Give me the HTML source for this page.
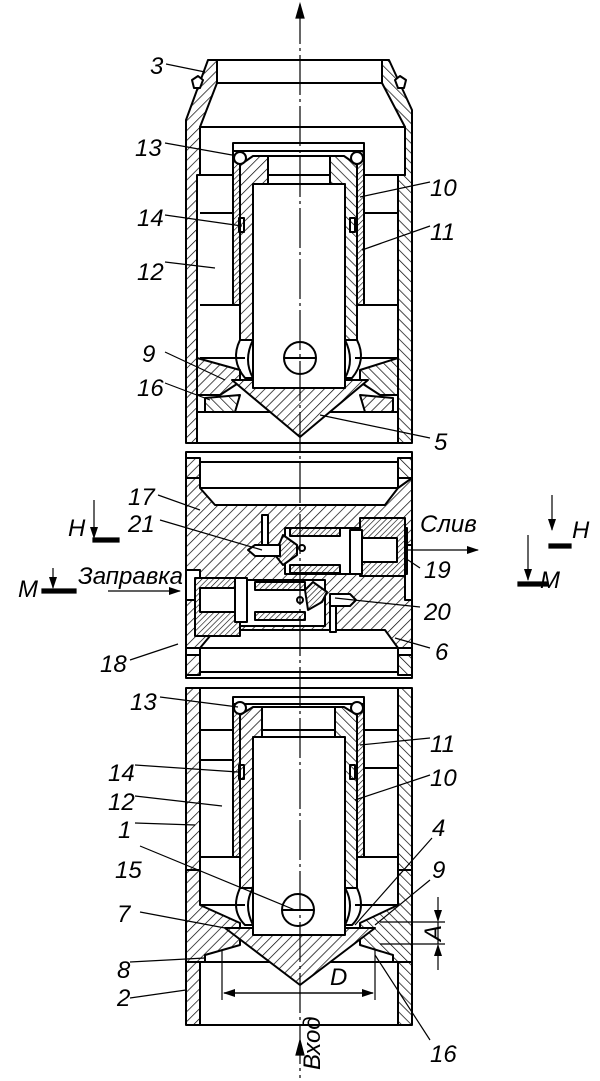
<!DOCTYPE html>
<html><head><meta charset="utf-8"><style>
html,body{margin:0;padding:0;background:#fff}
svg{display:block}
text{font-family:"Liberation Sans","DejaVu Sans",sans-serif;font-style:italic;font-size:24px;fill:#000}
</style></head><body>
<svg width="600" height="1081" viewBox="0 0 600 1081" xmlns="http://www.w3.org/2000/svg">
<defs>
<pattern id="h" patternUnits="userSpaceOnUse" width="7" height="7" patternTransform="rotate(45)"><rect width="7" height="7" fill="#fff"/><line x1="0" y1="0" x2="0" y2="7" stroke="#000" stroke-width="1.4"/></pattern>
<pattern id="h2" patternUnits="userSpaceOnUse" width="7" height="7" patternTransform="rotate(-45)"><rect width="7" height="7" fill="#fff"/><line x1="0" y1="0" x2="0" y2="7" stroke="#000" stroke-width="1.4"/></pattern>
<pattern id="h3" patternUnits="userSpaceOnUse" width="4" height="4" patternTransform="rotate(45)"><rect width="4" height="4" fill="#fff"/><line x1="0" y1="0" x2="0" y2="4" stroke="#000" stroke-width="1.2"/></pattern>
<marker id="ar" markerWidth="12" markerHeight="8" refX="11" refY="4" orient="auto" markerUnits="userSpaceOnUse"><path d="M0,0 L12,4 L0,8 z" fill="#000"/></marker>
</defs>
<g stroke="#000" stroke-width="2" fill="none" stroke-linejoin="round">

<!-- ===== TOP SECTION ===== -->
<polygon points="208,60 217,60 217,83 200,127 200,175 197,175 197,443 186,443 186,120" fill="url(#h)"/>
<polygon points="389,60 382,60 382,83 405,127 405,175 398,175 398,443 412,443 412,110" fill="url(#h2)"/>
<path d="M192,80 l6,-4 l5,4 l-3,8 l-6,0 z M406,80 l-6,-4 l-5,4 l3,8 l6,0 z" fill="#fff"/>
<line x1="217" y1="60" x2="382" y2="60"/>
<line x1="217" y1="83" x2="382" y2="83"/>
<rect x="200" y="127" width="205" height="48"/>
<line x1="200" y1="213" x2="233" y2="213"/><line x1="364" y1="213" x2="398" y2="213"/>
<line x1="200" y1="305" x2="245" y2="305"/><line x1="355" y1="305" x2="398" y2="305"/>
<line x1="200" y1="358" x2="245" y2="358"/><line x1="355" y1="358" x2="398" y2="358"/>
<polygon points="197,358 240,370 240,382 220,395 197,395" fill="url(#h)"/>
<polygon points="398,358 360,370 360,382 380,395 398,395" fill="url(#h2)"/>
<polygon points="205,398 240,395 235,412 205,412" fill="url(#h2)"/>
<polygon points="393,398 360,395 365,412 393,412" fill="url(#h)"/>
<line x1="197" y1="412" x2="398" y2="412"/>
<rect x="233" y="143" width="131" height="8" fill="#fff"/>
<rect x="233" y="151" width="7" height="154" fill="url(#h3)"/>
<rect x="357" y="151" width="7" height="154" fill="url(#h3)"/>
<polygon points="240,165 253,156 268,156 268,184 253,184 253,340 240,340" fill="url(#h)"/>
<polygon points="357,165 344,156 330,156 330,184 345,184 345,340 357,340" fill="url(#h2)"/>
<line x1="268" y1="156" x2="330" y2="156"/>
<line x1="253" y1="184" x2="345" y2="184"/>
<path d="M240,340 Q230,360 245,378 L253,378 Q243,360 253,340"/>
<path d="M357,340 Q367,360 352,378 L345,378 Q355,360 345,340"/>
<line x1="253" y1="184" x2="253" y2="388"/><line x1="345" y1="184" x2="345" y2="388"/>
<polygon points="232,380 253,380 253,388 345,388 345,380 368,380 300,437" fill="url(#h)"/>
<circle cx="300" cy="358" r="16" fill="#fff"/><line x1="284" y1="358" x2="316" y2="358"/>
<circle cx="240" cy="158" r="6" fill="#fff"/><circle cx="357" cy="158" r="6" fill="#fff"/>
<rect x="239" y="218" width="5" height="14"/><rect x="350" y="218" width="5" height="14"/>
<line x1="186" y1="443" x2="412" y2="443"/>

<!-- ===== MIDDLE SECTION ===== -->
<rect x="186" y="452" width="226" height="226"/>
<rect x="186" y="458" width="14" height="20" fill="url(#h)"/><rect x="398" y="458" width="14" height="20" fill="url(#h2)"/>
<rect x="186" y="655" width="14" height="20" fill="url(#h)"/><rect x="398" y="655" width="14" height="20" fill="url(#h2)"/>
<rect x="200" y="462" width="198" height="26"/>
<rect x="200" y="648" width="198" height="24"/>
<path d="M186,478 L200,478 L200,488 L215,505 L385,505 L398,488 L412,478 L412,545 L405,545 L405,600 L412,600 L412,648 L398,648 L385,630 L215,630 L200,648 L186,648 L186,600 L200,600 L200,570 L186,570 Z" fill="url(#h)"/>
<rect x="285" y="528" width="122" height="46" fill="#fff"/>
<rect x="360" y="518" width="45" height="58" fill="url(#h3)"/>
<rect x="290" y="528" width="50" height="8" fill="url(#h3)"/><rect x="290" y="565" width="50" height="8" fill="url(#h3)"/>
<rect x="350" y="530" width="12" height="44" fill="#fff"/>
<rect x="362" y="538" width="35" height="24" fill="#fff"/>
<path d="M283,535 L297,545 L297,555 L283,565 L275,555 Z" fill="url(#h3)"/>
<path d="M255,545 L280,545 L280,556 L255,556 L248,550 Z" fill="#fff"/>
<rect x="262" y="515" width="6" height="30" fill="#fff"/>
<rect x="195" y="580" width="130" height="46" fill="#fff"/>
<rect x="195" y="578" width="45" height="58" fill="url(#h3)"/>
<rect x="255" y="582" width="50" height="8" fill="url(#h3)"/><rect x="255" y="612" width="50" height="8" fill="url(#h3)"/>
<rect x="235" y="578" width="12" height="44" fill="#fff"/>
<rect x="200" y="588" width="35" height="24" fill="#fff"/>
<path d="M313,582 L327,592 L322,602 L308,610 L305,590 Z" fill="url(#h3)"/>
<path d="M330,594 L350,594 L356,600 L350,606 L330,606 Z" fill="#fff"/>
<rect x="330" y="606" width="6" height="26" fill="#fff"/>
<circle cx="302" cy="548" r="3"/><circle cx="300" cy="600" r="3"/>

<!-- ===== BOTTOM SECTION ===== -->
<polygon points="186,688 200,688 200,870 186,870" fill="url(#h)"/>
<polygon points="398,688 412,688 412,870 398,870" fill="url(#h2)"/>
<line x1="186" y1="688" x2="412" y2="688"/>
<rect x="200" y="688" width="198" height="42"/>
<polygon points="186,870 200,870 200,905 240,923 240,945 205,955 205,962 186,962" fill="url(#h)"/>
<polygon points="412,870 398,870 398,905 360,923 360,945 393,955 393,962 412,962" fill="url(#h2)"/>
<rect x="186" y="962" width="14" height="63" fill="url(#h)"/>
<rect x="398" y="962" width="14" height="63" fill="url(#h2)"/>
<line x1="186" y1="1025" x2="412" y2="1025"/>
<line x1="200" y1="962" x2="398" y2="962"/>
<line x1="200" y1="760" x2="233" y2="760"/><line x1="364" y1="768" x2="398" y2="768"/>
<line x1="200" y1="857" x2="245" y2="857"/><line x1="355" y1="857" x2="398" y2="857"/>
<line x1="200" y1="905" x2="245" y2="905"/><line x1="355" y1="905" x2="398" y2="905"/>
<rect x="233" y="697" width="131" height="7" fill="#fff"/>
<rect x="233" y="704" width="7" height="153" fill="url(#h3)"/>
<rect x="357" y="704" width="7" height="153" fill="url(#h3)"/>
<polygon points="240,715 253,707 262,707 262,737 253,737 253,888 240,888" fill="url(#h)"/>
<polygon points="357,715 344,707 335,707 335,737 345,737 345,888 357,888" fill="url(#h2)"/>
<line x1="262" y1="707" x2="335" y2="707"/><line x1="253" y1="737" x2="345" y2="737"/>
<path d="M240,888 Q230,910 245,925 L253,925 Q243,905 253,888"/>
<path d="M357,888 Q367,910 352,925 L345,925 Q355,905 345,888"/>
<line x1="253" y1="737" x2="253" y2="935"/><line x1="345" y1="737" x2="345" y2="935"/>
<polygon points="225,928 253,928 253,935 345,935 345,928 375,928 300,985" fill="url(#h)"/>
<circle cx="298" cy="910" r="16" fill="#fff"/><line x1="282" y1="910" x2="314" y2="910"/>
<circle cx="240" cy="708" r="6" fill="#fff"/><circle cx="357" cy="708" r="6" fill="#fff"/>
<rect x="239" y="765" width="5" height="14"/><rect x="350" y="765" width="5" height="14"/>
</g>

<g stroke="#000" stroke-width="1.2">
<line x1="300" y1="4" x2="300" y2="1078" stroke-dasharray="40,4,3,4"/>
<path d="M296,18 L300,4 L304,18 z" fill="#000"/>
<path d="M296,1055 L300,1040 L304,1055 z" fill="#000"/>
<line x1="222" y1="950" x2="222" y2="1000"/><line x1="375" y1="950" x2="375" y2="1000"/>
<line x1="224" y1="993" x2="373" y2="993" marker-end="url(#ar)"/>
<line x1="373" y1="993" x2="224" y2="993" marker-end="url(#ar)"/>
<line x1="380" y1="922" x2="445" y2="922"/><line x1="380" y1="944" x2="445" y2="944"/>
<line x1="438" y1="897" x2="438" y2="921" marker-end="url(#ar)"/>
<line x1="438" y1="970" x2="438" y2="945" marker-end="url(#ar)"/>
<line x1="438" y1="922" x2="438" y2="944"/>
<line x1="108" y1="591" x2="180" y2="591" marker-end="url(#ar)"/>
<line x1="408" y1="550" x2="478" y2="550" marker-end="url(#ar)"/>
<line x1="94" y1="500" x2="94" y2="538" marker-end="url(#ar)"/><rect x="93" y="538" width="26" height="4" fill="#000"/>
<line x1="53" y1="568" x2="53" y2="588" marker-end="url(#ar)"/><rect x="42" y="589" width="34" height="4" fill="#000"/>
<line x1="552" y1="495" x2="552" y2="530" marker-end="url(#ar)"/><rect x="549" y="544" width="22" height="4" fill="#000"/>
<line x1="528" y1="535" x2="528" y2="580" marker-end="url(#ar)"/><rect x="518" y="582" width="30" height="4" fill="#000"/>
<line x1="166" y1="64" x2="205" y2="72"/>
<line x1="165" y1="143" x2="232" y2="155"/>
<line x1="430" y1="182" x2="360" y2="197"/>
<line x1="165" y1="215" x2="242" y2="226"/>
<line x1="430" y1="226" x2="362" y2="250"/>
<line x1="165" y1="262" x2="215" y2="268"/>
<line x1="165" y1="352" x2="225" y2="380"/>
<line x1="165" y1="383" x2="210" y2="400"/>
<line x1="430" y1="438" x2="320" y2="415"/>
<line x1="158" y1="495" x2="200" y2="510"/>
<line x1="160" y1="520" x2="262" y2="550"/>
<line x1="420" y1="568" x2="405" y2="558"/>
<line x1="420" y1="607" x2="335" y2="598"/>
<line x1="130" y1="660" x2="178" y2="644"/>
<line x1="430" y1="648" x2="395" y2="638"/>
<line x1="160" y1="697" x2="238" y2="707"/>
<line x1="430" y1="738" x2="360" y2="745"/>
<line x1="135" y1="765" x2="238" y2="772"/>
<line x1="430" y1="775" x2="355" y2="800"/>
<line x1="135" y1="796" x2="222" y2="806"/>
<line x1="135" y1="823" x2="195" y2="825"/>
<line x1="432" y1="838" x2="355" y2="925"/>
<line x1="140" y1="846" x2="295" y2="910"/>
<line x1="430" y1="880" x2="375" y2="925"/>
<line x1="140" y1="912" x2="225" y2="928"/>
<line x1="130" y1="962" x2="205" y2="958"/>
<line x1="430" y1="1040" x2="375" y2="955"/>
<line x1="130" y1="998" x2="186" y2="990"/>
</g>

<text x="150" y="74">3</text>
<text x="135" y="156">13</text>
<text x="430" y="196">10</text>
<text x="137" y="226">14</text>
<text x="430" y="240">11</text>
<text x="137" y="280">12</text>
<text x="142" y="362">9</text>
<text x="137" y="396">16</text>
<text x="434" y="450">5</text>
<text x="128" y="505">17</text>
<text x="128" y="532">21</text>
<text x="68" y="536">H</text>
<text x="420" y="532">Слив</text>
<text x="572" y="538">H</text>
<text x="18" y="597">M</text>
<text x="78" y="584">Заправка</text>
<text x="424" y="578">19</text>
<text x="540" y="588">M</text>
<text x="424" y="620">20</text>
<text x="100" y="672">18</text>
<text x="435" y="660">6</text>
<text x="130" y="710">13</text>
<text x="430" y="752">11</text>
<text x="108" y="781">14</text>
<text x="430" y="786">10</text>
<text x="108" y="810">12</text>
<text x="118" y="838">1</text>
<text x="432" y="836">4</text>
<text x="115" y="878">15</text>
<text x="432" y="878">9</text>
<text x="117" y="922">7</text>
<text x="424" y="942" transform="rotate(-90 432 933)">A</text>
<text x="117" y="978">8</text>
<text x="330" y="985">D</text>
<text x="117" y="1006">2</text>
<text x="430" y="1062">16</text>
<text x="0" y="0" transform="translate(320,1070) rotate(-90)">Вход</text>
</svg>
</body></html>
